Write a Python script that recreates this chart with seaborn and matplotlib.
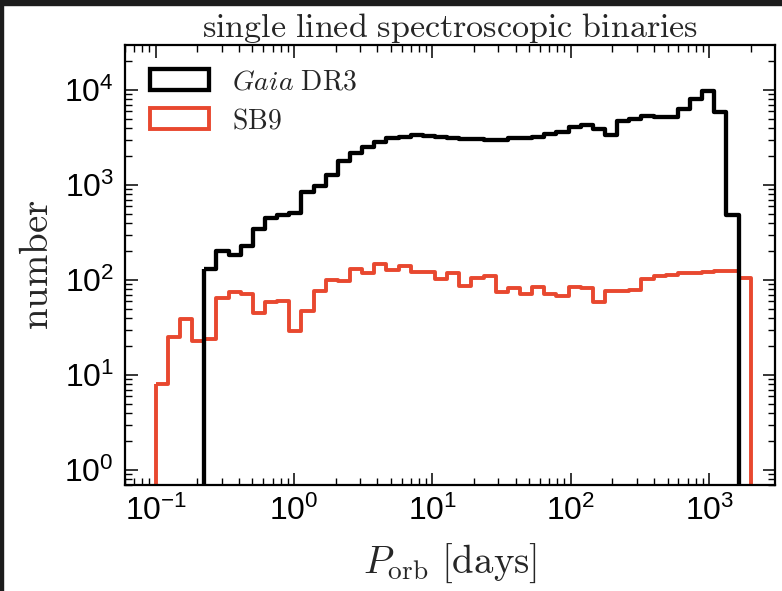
import numpy as np
import pandas as pd
import matplotlib
matplotlib.use("Agg")
import matplotlib.pyplot as plt
from matplotlib.patches import Rectangle
import seaborn as sns

# ---- data (histogram counts per log10(P/day) bin) ----
log_p_min = -1.0          # lower edge of first bin (log10 days)
log_p_max = 3.3           # upper edge of last bin (log10 days)
n_bins = 49               # equal-width bins in log10 P

sb9_counts = [8, 25, 39, 23, 24, 64, 74, 71, 45, 58,
              60, 29, 47, 77, 100, 98, 130, 119, 147, 127,
              140, 121, 121, 102, 119, 87, 104, 110, 74, 82,
              71, 84, 71, 68, 84, 82, 59, 77, 77, 78,
              102, 110, 113, 119, 119, 121, 124, 124, 104]

gaia_first_bin = 4
gaia_counts = [130, 204, 183, 228, 341, 446, 483, 511, 850, 984,
               1274, 1803, 2188, 2532, 2856, 3098, 3226, 3359, 3300, 3175,
               3098, 3055, 3030, 2975, 2975, 3125, 3098, 3226, 3440, 3640,
               4050, 4285, 3857, 3359, 4720, 4955, 5290, 5240, 5240, 6310,
               7980, 9750, 5910, 483]

series_labels = [r"$\mathit{Gaia}\ \mathrm{DR3}$", r"$\mathrm{SB9}$"]
x_ticks = [0.1, 1, 10, 100, 1000]
y_ticks = [1, 10, 100, 1000, 10000]

# ---- build tables ----
w = (log_p_max - log_p_min) / n_bins
centers = log_p_min + (np.arange(n_bins) + 0.5) * w
sb9_df = pd.DataFrame({"P": 10 ** centers, "n": sb9_counts})
g_idx = np.arange(gaia_first_bin, gaia_first_bin + len(gaia_counts))
gaia_df = pd.DataFrame({"P": 10 ** centers[g_idx], "n": gaia_counts})

# ---- style ----
sns.set_style("ticks")
plt.rcParams["font.family"] = ["Liberation Sans", "DejaVu Sans"]
plt.rcParams["mathtext.fontset"] = "cm"

fig = plt.figure(figsize=(7.82, 5.91), dpi=100)
# dark screenshot border on top and left
fig.patches.append(Rectangle((0, 1 - 5 / 591), 1, 5 / 591, transform=fig.transFigure,
                             color="#1c1c1c", zorder=-10))
fig.patches.append(Rectangle((0, 0), 3 / 782, 1, transform=fig.transFigure,
                             color="#1c1c1c", zorder=-10))

ax = fig.add_axes([125 / 782, 1 - 485 / 591, 650 / 782, 440 / 591])

red = "#E8482F"
sns.histplot(data=gaia_df, x="P", weights="n", bins=len(gaia_counts),
             binrange=(log_p_min + gaia_first_bin * w,
                       log_p_min + (gaia_first_bin + len(gaia_counts)) * w),
             log_scale=(True, True), element="step", fill=True, color="black",
             facecolor="none", edgecolor="black", linewidth=3.1,
             label=series_labels[0], ax=ax, zorder=3)
sns.histplot(data=sb9_df, x="P", weights="n", bins=n_bins,
             binrange=(log_p_min, log_p_max),
             log_scale=(True, True), element="step", fill=True, color=red,
             facecolor="none", edgecolor=red, linewidth=2.8,
             label=series_labels[1], ax=ax, zorder=2)

# zero baseline of the step outlines cannot be shown on a log axis:
# move it just below the visible range so the end walls are drawn
ax.set_ylim(0.695, 2.98e4)
for coll in ax.collections:
    for p in coll.get_paths():
        v = p.vertices
        bad = ~np.isfinite(v[:, 1]) | (v[:, 1] <= 0)
        v[bad, 1] = 1e-2

ax.set_xlim(0.06, 2990)
ax.set_ylim(0.695, 2.98e4)
ax.set_xticks(x_ticks)
ax.set_yticks(y_ticks)

ax.tick_params(which="both", direction="in", top=True, right=True, colors="black")
ax.tick_params(which="major", length=9, width=1.1, labelsize=23, pad=8)
ax.tick_params(which="minor", length=5, width=1.0)
for s in ax.spines.values():
    s.set_linewidth(1.6)
    s.set_color("black")

ax.set_title(r"$\mathrm{single\ lined\ spectroscopic\ binaries}$", fontsize=24.5, pad=6)
ax.set_xlabel(r"$P_{\rm orb}\ [\rm days]$", fontsize=28, labelpad=10)
ax.set_ylabel(r"$\mathrm{number}$", fontsize=28, labelpad=6)

leg = ax.legend(loc="upper left", bbox_to_anchor=(0.038, 0.945), frameon=False,
                fontsize=20, handlelength=2.15, handleheight=0.8, handletextpad=0.8,
                labelspacing=0.45, borderpad=0, borderaxespad=0)

fig.savefig("out.png", dpi=100)
